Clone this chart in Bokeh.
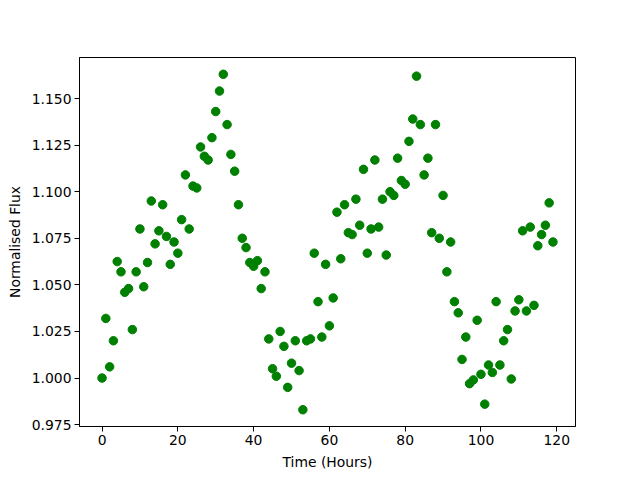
from bokeh.plotting import figure
from bokeh.models import Range1d, FixedTicker, PrintfTickFormatter
from bokeh.embed import file_html
from bokeh.resources import INLINE

hours = list(range(120))
flux = [
    1.000, 1.032, 1.006, 1.020, 1.0625, 1.057, 1.046, 1.048, 1.026, 1.057,
    1.080, 1.049, 1.062, 1.095, 1.072, 1.079, 1.093, 1.076, 1.061, 1.073,
    1.067, 1.085, 1.109, 1.080, 1.103, 1.102, 1.124, 1.119, 1.117, 1.129,
    1.143, 1.154, 1.163, 1.136, 1.120, 1.111, 1.093, 1.075, 1.070, 1.062,
    1.060, 1.063, 1.048, 1.057, 1.021, 1.005, 1.001, 1.025, 1.017, 0.995,
    1.008, 1.020, 1.004, 0.983, 1.020, 1.021, 1.067, 1.041, 1.022, 1.061,
    1.028, 1.043, 1.089, 1.064, 1.093, 1.078, 1.077, 1.096, 1.082, 1.112,
    1.067, 1.080, 1.117, 1.081, 1.096, 1.066, 1.100, 1.098, 1.118, 1.106,
    1.104, 1.127, 1.139, 1.162, 1.136, 1.109, 1.118, 1.078, 1.136, 1.075,
    1.098, 1.057, 1.073, 1.041, 1.035, 1.010, 1.022, 0.997, 0.999, 1.031,
    1.002, 0.986, 1.007, 1.003, 1.041, 1.007, 1.020, 1.026, 0.9995, 1.036,
    1.042, 1.079, 1.036, 1.081, 1.039, 1.071, 1.077, 1.082, 1.094, 1.073,
]
x_ticks = [0, 20, 40, 60, 80, 100, 120]
y_ticks = [0.975, 1.000, 1.025, 1.050, 1.075, 1.100, 1.125, 1.150]

xpad = (max(hours) - min(hours)) * 0.05
ypad = (max(flux) - min(flux)) * 0.05

p = figure(
    frame_width=496, frame_height=369,
    min_border_left=79, min_border_right=50, min_border_top=57, min_border_bottom=45,
    output_backend="svg", toolbar_location=None,
    x_range=Range1d(min(hours) - xpad, max(hours) + xpad),
    y_range=Range1d(min(flux) - ypad, max(flux) + ypad),
)
p.scatter(hours, flux, size=8.5, color="#008000")

p.xgrid.visible = False
p.ygrid.visible = False
p.outline_line_color = "black"
p.outline_line_width = 1
p.background_fill_color = "white"
p.border_fill_color = "white"

p.xaxis.ticker = FixedTicker(ticks=x_ticks)
p.yaxis.ticker = FixedTicker(ticks=y_ticks)
p.yaxis.formatter = PrintfTickFormatter(format="%.3f")
p.xaxis.axis_label = "Time (Hours)"
p.yaxis.axis_label = "Normalised Flux"

for ax in (p.xaxis[0], p.yaxis[0]):
    ax.major_tick_out = 5
    ax.major_tick_in = 0
    ax.minor_tick_out = 0
    ax.minor_tick_in = 0
    ax.axis_line_color = "black"
    ax.major_tick_line_color = "black"
    ax.major_label_text_font = "DejaVu Sans"
    ax.major_label_text_font_size = "13.9px"
    ax.major_label_text_color = "black"
    ax.axis_label_text_font = "DejaVu Sans"
    ax.axis_label_text_font_size = "13.9px"
    ax.axis_label_text_font_style = "normal"
    ax.axis_label_text_color = "black"
    ax.major_label_standoff = 3
    ax.axis_label_standoff = 6

open("out.html", "w").write(file_html(p, INLINE))
